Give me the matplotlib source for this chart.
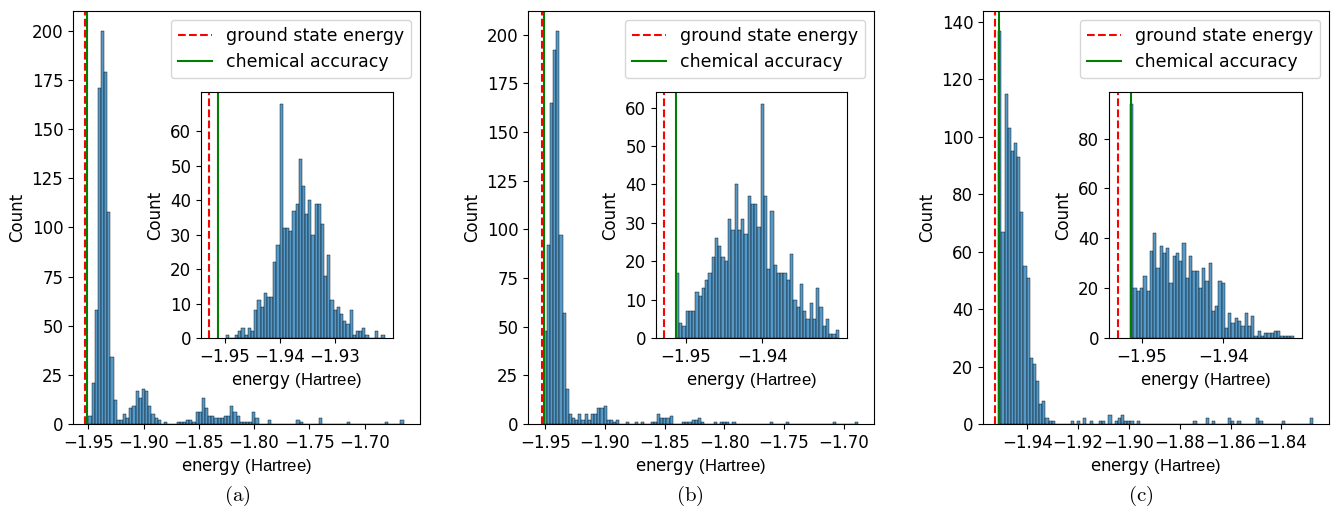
import numpy as np
import matplotlib
matplotlib.use("Agg")
import matplotlib.pyplot as plt

plt.rcParams["font.size"] = 12
plt.rcParams["mathtext.rm"] = "Liberation Sans"

ground_state = -1.95287
chem_acc = ground_state + 0.0016

# (a) main histogram: 100 bins over [lo, hi]
a_range = (-1.9500, -1.6646)
a_counts = [4, 21, 58, 171, 200, 179, 108, 34, 12, 2,
            2, 5, 3, 8, 9, 17, 13, 18, 17, 9,
            5, 3, 2, 0, 1, 0, 0, 0, 1, 1,
            1, 2, 2, 1, 6, 6, 13, 8, 4, 4,
            3, 3, 3, 4, 4, 9, 6, 4, 1, 1,
            1, 1, 6, 3, 0, 0, 0, 2, 0, 0,
            0, 0, 0, 0, 0, 0, 2, 1, 0, 0,
            0, 0, 0, 3, 0, 0, 0, 0, 0, 0,
            0, 0, 1, 0, 0, 0, 0, 0, 0, 0,
            0, 0, 0, 0, 1, 0, 0, 0, 0, 2]
a_inset_range = (-1.9499, -1.9209)
a_inset_counts = [1, 0, 0, 1, 2, 3, 1, 3, 2, 8,
                  11, 9, 13, 12, 12, 22, 27, 68, 32, 32,
                  31, 37, 39, 52, 44, 36, 40, 30, 39, 39,
                  33, 18, 24, 11, 8, 9, 7, 5, 4, 8,
                  1, 2, 2, 3, 1, 0, 0, 2, 0, 1]

# (b)
b_range = (-1.9513, -1.6879)
b_counts = [48, 92, 165, 192, 202, 97, 57, 18, 5, 3,
            2, 5, 2, 5, 2, 5, 5, 8, 8, 9,
            2, 2, 1, 2, 0, 0, 1, 0, 0, 1,
            0, 1, 0, 0, 1, 1, 5, 3, 3, 3,
            4, 0, 0, 0, 1, 1, 1, 2, 2, 3,
            1, 0, 0, 0, 1, 0, 1, 1, 1, 0,
            1, 0, 0, 0, 0, 0, 0, 0, 0, 0,
            0, 0, 1, 0, 0, 0, 0, 1, 0, 0,
            0, 0, 0, 0, 0, 0, 0, 0, 0, 0,
            0, 0, 1, 0, 0, 0, 0, 0, 0, 1]
b_inset_range = (-1.9513, -1.9300)
b_inset_counts = [17, 4, 3, 7, 7, 7, 12, 11, 13, 15,
                  17, 21, 26, 24, 21, 20, 31, 28, 40, 28,
                  31, 27, 37, 35, 35, 29, 61, 37, 18, 33,
                  19, 17, 17, 17, 15, 22, 10, 8, 14, 7,
                  5, 9, 5, 13, 8, 3, 5, 1, 1, 2]

# (c)
c_range = (-1.9514, -1.8276)
c_counts = [137, 67, 115, 103, 95, 98, 93, 74, 55, 51,
            23, 21, 15, 7, 8, 2, 1, 1, 0, 0,
            0, 0, 0, 1, 0, 1, 0, 2, 0, 1,
            0, 0, 1, 1, 0, 3, 0, 1, 2, 3,
            1, 1, 1, 0, 1, 0, 0, 0, 0, 0,
            0, 0, 0, 0, 0, 0, 0, 0, 0, 0,
            0, 0, 1, 0, 0, 0, 2, 0, 1, 0,
            0, 0, 0, 2, 1, 0, 1, 0, 0, 0,
            0, 0, 2, 1, 0, 0, 0, 0, 0, 0,
            1, 0, 0, 0, 0, 0, 0, 0, 0, 2]
c_inset_range = (-1.9514, -1.9314)
c_inset_counts = [94, 20, 19, 20, 25, 19, 35, 42, 28, 37,
                  34, 36, 22, 33, 34, 31, 38, 24, 33, 27,
                  27, 20, 28, 23, 30, 11, 13, 23, 22, 4,
                  10, 6, 8, 7, 5, 10, 5, 9, 1, 3,
                  1, 2, 2, 2, 3, 3, 1, 1, 1, 1]

# tick labels shown in the reference
main_xticks = [[-1.95, -1.90, -1.85, -1.80, -1.75, -1.70],
               [-1.95, -1.90, -1.85, -1.80, -1.75, -1.70],
               [-1.94, -1.92, -1.90, -1.88, -1.86, -1.84]]
main_yticks = [[0, 25, 50, 75, 100, 125, 150, 175, 200],
               [0, 25, 50, 75, 100, 125, 150, 175, 200],
               [0, 20, 40, 60, 80, 100, 120, 140]]
inset_xticks = [[-1.95, -1.94, -1.93], [-1.95, -1.94], [-1.95, -1.94]]
inset_yticks = [[0, 10, 20, 30, 40, 50, 60],
                [0, 10, 20, 30, 40, 50, 60],
                [0, 20, 40, 60, 80]]

panels = [
    ("(a)", a_range, a_counts, a_inset_range, a_inset_counts),
    ("(b)", b_range, b_counts, b_inset_range, b_inset_counts),
    ("(c)", c_range, c_counts, c_inset_range, c_inset_counts),
]

# layout in pixels (left, right) of main axes / insets, caption x centre
W, H = 1337, 511
main_x = [(73, 420), (528, 874), (983, 1329)]
inset_x = [(201, 393), (656, 847), (1109, 1302)]
cap_x = [237, 690, 1141]
main_xlim = [(-1.9639, -1.6498), (-1.9645, -1.6747), (-1.9574, -1.8213)]
inset_xlim = [(-1.95438, -1.91936), (-1.95387, -1.92896), (-1.9540, -1.93036)]

bar_kw = dict(align="edge", facecolor=(0.122, 0.467, 0.706, 0.75),
              edgecolor="black", linewidth=0.3)


def hist(ax, rng, counts):
    edges = np.linspace(rng[0], rng[1], len(counts) + 1)
    ax.bar(edges[:-1], counts, width=np.diff(edges), **bar_kw)
    ax.axvline(ground_state, color="red", ls="--", lw=1.5, label="ground state energy")
    ax.axvline(chem_acc, color="green", lw=1.5, label="chemical accuracy")
    ax.set_ylabel("Count")
    ax.set_xlabel(r"energy $\mathrm{(Hartree)}$", math_fontfamily="custom")


fig = plt.figure(figsize=(W / 100, H / 100), dpi=100)

for i, (cap, rng, counts, irng, icounts) in enumerate(panels):
    l, r = main_x[i]
    ax = fig.add_axes([l / W, (H - 424) / H, (r - l) / W, 413 / H])
    hist(ax, rng, counts)
    ax.set_xlim(*main_xlim[i])
    ax.set_xticks(main_xticks[i])
    ax.set_yticks(main_yticks[i])
    ax.set_ylim(0, max(counts) * 1.05)
    ax.legend(loc="upper right", fontsize=12.5)

    l, r = inset_x[i]
    axin = fig.add_axes([l / W, (H - 338) / H, (r - l) / W, 246 / H])
    hist(axin, irng, icounts)
    axin.set_xlim(*inset_xlim[i])
    axin.set_xticks(inset_xticks[i])
    axin.set_yticks(inset_yticks[i])
    axin.set_ylim(0, max(icounts) * 1.05)

    fig.text(cap_x[i] / W, 1 - 496 / H, r"$\mathrm{%s}$" % cap, ha="center",
             va="center", fontsize=15, math_fontfamily="cm")

fig.savefig("out.png", dpi=100)
